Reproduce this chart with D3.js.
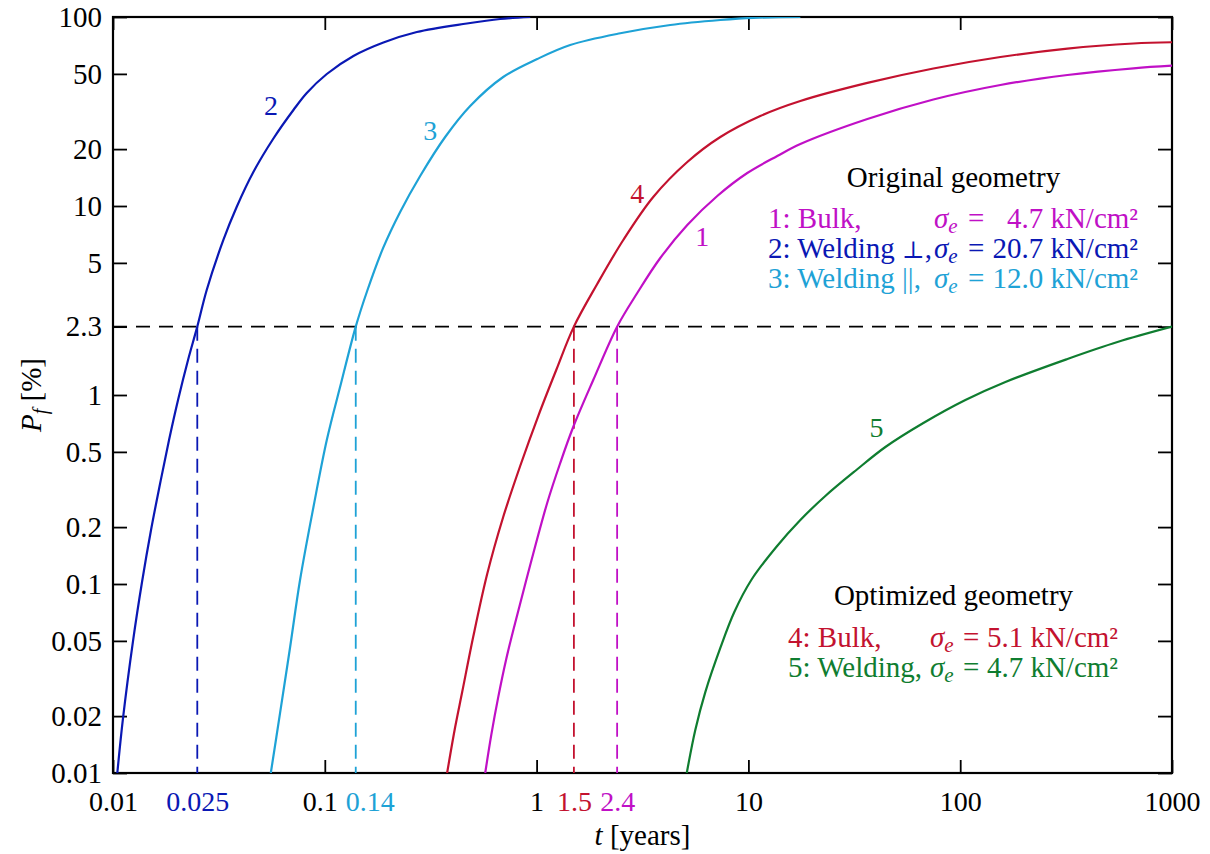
<!DOCTYPE html>
<html>
<head>
<meta charset="utf-8">
<script src="https://cdn.jsdelivr.net/npm/d3@7"></script>
<style>
  body { margin: 0; background: #fff; }
</style>
</head>
<body>
<div id="chart"></div>
<script>
// Failure probability P_f over time t, five geometries (log-log)

// curve 1: original geometry, bulk
const curve1T = [0.572, 0.611, 0.659, 0.719, 0.792, 0.933, 1.122, 1.293, 1.489, 1.851, 2.4, 2.987, 3.836, 5.146, 7.13, 9.88, 13.69, 17.59, 36.46, 74.7, 154.8, 320.9, 657.9, 1000];
const curve1P = [0.01, 0.0159, 0.0252, 0.0401, 0.0622, 0.126, 0.2683, 0.4368, 0.677, 1.2, 2.3, 3.465, 5.307, 7.93, 11.3, 14.95, 18.39, 21.28, 28.86, 36.6, 43.68, 49.34, 53.54, 55.25];

// curve 2: original geometry, welding perpendicular
const curve2T = [0.01048, 0.01115, 0.01243, 0.01371, 0.01512, 0.01667, 0.01839, 0.02028, 0.02261, 0.025, 0.0277, 0.0332, 0.0384, 0.046, 0.0572, 0.0711, 0.0822, 0.1022, 0.1365, 0.1891, 0.272, 0.4685, 0.673, 0.933];
const curve2P = [0.01, 0.0195, 0.0499, 0.1025, 0.1931, 0.338, 0.578, 0.941, 1.532, 2.3, 3.594, 6.61, 9.91, 15.13, 22.76, 32.2, 39.62, 49.94, 62.2, 73.3, 83.3, 92.4, 97.6, 100];

// curve 3: original geometry, welding parallel
const curve3T = [0.0556, 0.0615, 0.0686, 0.0764, 0.0884, 0.1022, 0.1194, 0.14, 0.1585, 0.1886, 0.2269, 0.282, 0.3701, 0.4858, 0.6955, 1.007, 1.441, 2.483, 4.278, 7.37, 10.55, 17.59];
const curve3P = [0.01, 0.0208, 0.0464, 0.105, 0.2555, 0.578, 1.157, 2.3, 3.55, 6.0, 9.3, 14.41, 23.18, 33.82, 48.14, 59.95, 71.1, 82.0, 90.7, 96.4, 99.0, 100];

// curve 4: optimized geometry, bulk
const curve4T = [0.378, 0.4126, 0.4453, 0.5018, 0.5844, 0.6955, 0.8366, 1.018, 1.238, 1.5, 1.933, 2.566, 3.554, 5.146, 7.37, 11.38, 17.59, 36.46, 74.7, 154.8, 320.9, 657.9, 1000];
const curve4P = [0.01, 0.0175, 0.0268, 0.0524, 0.1129, 0.2262, 0.421, 0.774, 1.356, 2.3, 3.866, 6.61, 11.16, 17.09, 23.18, 29.94, 35.94, 44.8, 53.4, 61.4, 68.1, 72.4, 73.5];

// curve 5: optimized geometry, welding
const curve5T = [5.117, 5.614, 6.26, 7.37, 8.58, 10.32, 13.54, 17.59, 23.08, 32.34, 44.34, 67.0, 105.8, 163.5, 320.9, 552.8, 1000];
const curve5P = [0.01, 0.0169, 0.0268, 0.0459, 0.0711, 0.105, 0.157, 0.2181, 0.2922, 0.401, 0.5308, 0.711, 0.941, 1.172, 1.551, 1.907, 2.3];

const xTicks = [0.01, 0.1, 1, 10, 100, 1000];
const yTicks = [0.01, 0.02, 0.05, 0.1, 0.2, 0.5, 1, 2.3, 5, 10, 20, 50, 100];
const markTimes = [0.025, 0.14, 1.5, 2.4];   // t where P_f = 2.3 %
const markLevel = 2.3;

const colors = { 1: "#c010c6", 2: "#0a18b4", 3: "#1ea2d6", 4: "#c3122f", 5: "#0f7d30" };
const markColors = [colors[2], colors[3], colors[4], colors[1]];

const width = 1210, height = 854;
const margin = { top: 17, right: 38, bottom: 81, left: 113 };
const innerWidth = width - margin.left - margin.right;
const innerHeight = height - margin.top - margin.bottom;
const fontSize = 28;
const legendSize = 29;
const serif = "Liberation Serif, Times New Roman, Times, DejaVu Serif, serif";

const svg = d3.select("#chart").append("svg")
    .attr("width", width)
    .attr("height", height)
    .attr("font-family", serif)
    .style("font-family", serif)
    .style("display", "block");

const g = svg.append("g")
    .attr("transform", `translate(${margin.left},${margin.top})`);

// Scales
const x = d3.scaleLog().domain([0.01, 1000]).range([0, innerWidth]);
const y = d3.scaleLog().domain([0.01, 100]).range([innerHeight, 0]);

g.append("clipPath").attr("id", "plot-clip")
    .append("rect").attr("width", innerWidth).attr("height", innerHeight);

// Axes (ticks point inward on all four sides)
function styleAxis(sel, size) {
    sel.select(".domain").remove();
    sel.selectAll("line").attr("stroke", "#000").attr("stroke-width", 1.8);
    sel.attr("font-family", serif).attr("font-size", size || fontSize);
    sel.selectAll("text").attr("fill", "#000");
}

const fmt = d3.format("~g");

const bottomAxis = g.append("g")
    .attr("transform", `translate(0,${innerHeight})`)
    .call(d3.axisBottom(x).tickValues(xTicks).tickFormat(fmt)
        .tickSizeInner(-13).tickSizeOuter(0).tickPadding(18))
    .call(styleAxis);

g.append("g")
    .call(d3.axisTop(x).tickValues(xTicks).tickFormat("")
        .tickSizeInner(-13).tickSizeOuter(0))
    .call(styleAxis);

g.append("g")
    .call(d3.axisLeft(y).tickValues(yTicks).tickFormat(fmt)
        .tickSizeInner(-14).tickSizeOuter(0).tickPadding(11))
    .call(styleAxis, 29);

g.append("g")
    .attr("transform", `translate(${innerWidth},0)`)
    .call(d3.axisRight(y).tickValues(yTicks).tickFormat("")
        .tickSizeInner(-14).tickSizeOuter(0))
    .call(styleAxis);

// 0.1 label is pushed left to make room for 0.14
bottomAxis.selectAll(".tick").filter(d => d === 0.1).select("text").attr("dx", -5);

// Coloured labels for the read-off times
const markAxis = g.append("g")
    .attr("transform", `translate(0,${innerHeight})`)
    .call(d3.axisBottom(x).tickValues(markTimes).tickFormat(fmt)
        .tickSize(0).tickPadding(18))
    .call(styleAxis);
markAxis.selectAll(".tick text")
    .attr("fill", (d, i) => markColors[i])
    .attr("dx", d => d === 0.14 ? 14 : 0);

// Frame
g.append("rect")
    .attr("width", innerWidth)
    .attr("height", innerHeight)
    .attr("fill", "none")
    .attr("stroke", "#000")
    .attr("stroke-width", 2.2);

// Dashed read-off lines
g.append("line")
    .attr("x1", x(0.01)).attr("x2", x(1000))
    .attr("y1", y(markLevel)).attr("y2", y(markLevel))
    .attr("stroke", "#000")
    .attr("stroke-width", 1.8)
    .attr("stroke-dasharray", "14,9");

g.selectAll(".mark-line")
    .data(markTimes)
    .enter()
    .append("line")
    .attr("class", "mark-line")
    .attr("x1", d => x(d)).attr("x2", d => x(d))
    .attr("y1", y(markLevel)).attr("y2", y(0.01))
    .attr("stroke", (d, i) => markColors[i])
    .attr("stroke-width", 1.8)
    .attr("stroke-dasharray", "14,8");

// Curves
const series = [
    { id: 1, t: curve1T, p: curve1P },
    { id: 2, t: curve2T, p: curve2P },
    { id: 3, t: curve3T, p: curve3P },
    { id: 4, t: curve4T, p: curve4P },
    { id: 5, t: curve5T, p: curve5P }
];

const line = d3.line()
    .x(d => x(d[0]))
    .y(d => y(d[1]))
    .curve(d3.curveCatmullRom.alpha(0.5));

g.append("g")
    .attr("clip-path", "url(#plot-clip)")
    .selectAll("path")
    .data(series)
    .enter()
    .append("path")
    .attr("d", s => line(s.t.map((t, i) => [t, s.p[i]])))
    .attr("fill", "none")
    .attr("stroke", s => colors[s.id])
    .attr("stroke-width", 2.2);

// Curve numbers
const curveLabels = [
    { id: 1, t: 6.06, p: 6.94 },
    { id: 2, t: 0.0557, p: 34.2 },
    { id: 3, t: 0.3144, p: 25.2 },
    { id: 4, t: 2.987, p: 11.72 },
    { id: 5, t: 40.2, p: 0.677 }
];

g.selectAll(".curve-label")
    .data(curveLabels)
    .enter()
    .append("text")
    .attr("class", "curve-label")
    .attr("x", d => x(d.t))
    .attr("y", d => y(d.p))
    .attr("dy", "0.35em")
    .attr("text-anchor", "middle")
    .attr("font-size", fontSize)
    .attr("fill", d => colors[d.id])
    .text(d => d.id);

// Legend blocks (svg coordinates)
const legend = svg.append("g").attr("font-size", legendSize).attr("font-family", serif);

function sigmaE(sel, xPos, yPos, color) {
    const t = sel.append("text")
        .attr("x", xPos).attr("y", yPos)
        .attr("fill", color);
    t.append("tspan").attr("font-style", "italic").text("σ");
    t.append("tspan").attr("font-style", "italic").attr("font-size", 21).attr("dy", 5).text("e");
}

function legendBlock(title, titleY, rows, xs) {
    legend.append("text")
        .attr("x", 953.5).attr("y", titleY)
        .attr("text-anchor", "middle")
        .attr("fill", "#000")
        .text(title);
    rows.forEach((r, i) => {
        const yy = titleY + xs.gap + i * 30;
        const c = colors[r.id];
        const name = legend.append("text").attr("x", xs.start).attr("y", yy).attr("fill", c);
        name.append("tspan").text(r.name);
        if (r.sym) {
            name.append("tspan").attr("font-family", "DejaVu Serif").attr("font-size", 24).text(r.sym);
            name.append("tspan").text(",");
        }
        sigmaE(legend, xs.sigma, yy, c);
        legend.append("text").attr("x", xs.eq).attr("y", yy).attr("fill", c).text("=");
        legend.append("text").attr("x", xs.end).attr("y", yy)
            .attr("text-anchor", "end").attr("fill", c).text(r.value + " kN/cm²");
    });
}

legendBlock("Original geometry", 187, [
    { id: 1, name: "1: Bulk,", value: "4.7" },
    { id: 2, name: "2: Welding ", sym: "⊥", value: "20.7" },
    { id: 3, name: "3: Welding ||,", value: "12.0" }
], { start: 768, sigma: 934, eq: 968, end: 1138, gap: 41 });

legendBlock("Optimized geometry", 605, [
    { id: 4, name: "4: Bulk,", value: "5.1" },
    { id: 5, name: "5: Welding,", value: "4.7" }
], { start: 788, sigma: 930, eq: 963, end: 1118, gap: 42 });

// Axis titles
const xTitle = svg.append("text")
    .attr("x", margin.left + innerWidth / 2)
    .attr("y", 845)
    .attr("text-anchor", "middle")
    .attr("font-size", fontSize + 1)
    .attr("fill", "#000");
xTitle.append("tspan").attr("font-style", "italic").text("t");
xTitle.append("tspan").text(" [years]");

const yTitle = svg.append("text")
    .attr("transform", `translate(41,${margin.top + innerHeight / 2}) rotate(-90)`)
    .attr("text-anchor", "middle")
    .attr("font-size", fontSize + 1)
    .attr("fill", "#000");
yTitle.append("tspan").attr("font-style", "italic").text("P");
yTitle.append("tspan").attr("font-style", "italic").attr("font-size", 20).attr("dy", 6).text("f");
yTitle.append("tspan").attr("dy", -6).text(" [%]");
</script>
</body>
</html>
